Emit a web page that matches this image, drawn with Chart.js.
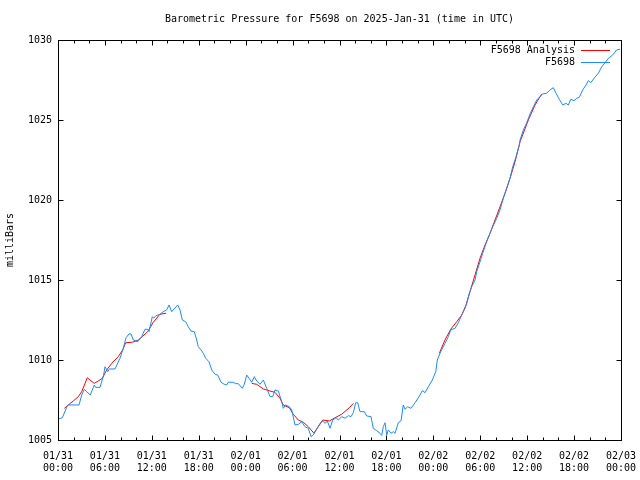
<!DOCTYPE html>
<html>
<head>
<meta charset="utf-8">
<title>Barometric Pressure F5698</title>
<script src="https://cdn.jsdelivr.net/npm/chart.js@4/dist/chart.umd.min.js"></script>
<style>
  body { margin: 0; background: #fff; }
  canvas { display: block; }
</style>
</head>
<body>
<canvas id="chartPressure" width="640" height="480"></canvas>
<script>
// Hours since 01/31 00:00 UTC and pressure (mbar)
const blueHours = [0, 0.55, 1.24, 2.69, 3.03, 3.36, 3.67, 4.13, 4.64, 4.82, 5.37, 5.84, 6.01, 6.36, 6.56, 7.29, 7.93, 8.35, 8.7, 9.08, 9.34, 9.63, 10.19, 10.7, 11.13, 11.47, 11.64, 12.06, 12.24, 12.53, 13.04, 13.47, 13.9, 14.2, 14.54, 15.31, 15.6, 15.9, 16.33, 16.66, 17.01, 17.43, 17.74, 17.94, 18.29, 18.58, 18.89, 19.31, 19.66, 20.08, 20.42, 20.85, 21.27, 21.58, 21.78, 22.42, 22.73, 23.06, 23.57, 23.83, 24.13, 24.43, 24.77, 25.11, 25.32, 25.83, 26.26, 26.69, 27.11, 27.46, 27.75, 28.18, 28.61, 28.81, 29.12, 29.58, 29.89, 30.31, 30.73, 31.17, 31.59, 32.01, 32.36, 32.65, 33.0, 33.51, 33.85, 34.15, 34.44, 34.79, 35.13, 35.55, 35.85, 36.28, 36.71, 37.13, 37.47, 37.77, 38.07, 38.33, 38.62, 39.17, 39.48, 40.03, 40.32, 40.76, 41.18, 41.4, 41.6, 41.82, 42.04, 42.24, 42.59, 42.88, 43.1, 43.52, 43.87, 44.16, 44.38, 44.72, 45.15, 45.66, 46.17, 46.59, 46.94, 47.36, 47.87, 48.31, 48.51, 48.94, 49.49, 49.92, 50.22, 50.77, 51.2, 51.63, 52.05, 52.27, 52.6, 52.91, 53.33, 53.55, 53.97, 54.32, 54.74, 55.16, 55.6, 56.11, 56.53, 56.95, 57.38, 57.81, 58.15, 58.58, 59.0, 59.09, 59.51, 59.94, 60.37, 60.79, 61.22, 61.64, 61.99, 62.5, 62.92, 63.35, 63.69, 64.11, 64.55, 64.97, 65.26, 65.57, 65.99, 66.34, 66.67, 67.1, 67.53, 67.82, 68.13, 68.55, 69.1, 69.54, 69.96, 70.38, 70.94, 71.45, 71.87];
const bluePressure = [1006.31, 1006.39, 1007.19, 1007.19, 1007.81, 1008.17, 1008.02, 1007.81, 1008.44, 1008.29, 1008.29, 1009.06, 1009.58, 1009.27, 1009.44, 1009.44, 1010.11, 1010.73, 1011.39, 1011.63, 1011.63, 1011.25, 1011.14, 1011.46, 1011.92, 1011.92, 1011.77, 1012.71, 1012.61, 1012.77, 1012.86, 1013.02, 1013.13, 1013.44, 1013.02, 1013.44, 1013.13, 1012.5, 1012.39, 1012.08, 1011.81, 1011.77, 1011.25, 1010.83, 1010.63, 1010.42, 1010.11, 1009.89, 1009.38, 1009.11, 1009.06, 1008.61, 1008.48, 1008.44, 1008.61, 1008.61, 1008.52, 1008.52, 1008.23, 1008.48, 1009.06, 1008.86, 1008.61, 1008.96, 1008.75, 1008.48, 1008.75, 1008.23, 1007.71, 1007.71, 1008.13, 1008.06, 1007.39, 1006.98, 1007.19, 1007.08, 1006.88, 1005.94, 1005.98, 1006.14, 1005.83, 1005.73, 1005.21, 1005.31, 1005.63, 1006.04, 1006.19, 1006.04, 1006.19, 1005.73, 1006.25, 1006.39, 1006.25, 1006.46, 1006.36, 1006.52, 1006.46, 1006.71, 1007.33, 1007.33, 1006.77, 1006.77, 1006.5, 1006.46, 1005.73, 1005.58, 1005.42, 1005.29, 1005.83, 1006.08, 1005.31, 1005.63, 1005.42, 1005.52, 1005.42, 1006.08, 1006.21, 1007.19, 1006.92, 1007.08, 1006.98, 1007.33, 1007.71, 1008.08, 1007.96, 1008.33, 1008.75, 1009.27, 1010.0, 1010.52, 1011.04, 1011.46, 1011.88, 1011.98, 1012.33, 1012.81, 1013.23, 1013.54, 1014.17, 1014.58, 1015.0, 1015.52, 1016.14, 1016.67, 1017.29, 1017.81, 1018.33, 1018.86, 1019.38, 1020.11, 1020.73, 1021.36, 1022.08, 1022.71, 1023.44, 1023.75, 1024.38, 1024.83, 1025.38, 1025.83, 1026.25, 1026.46, 1026.63, 1026.67, 1026.88, 1027.02, 1026.67, 1026.29, 1025.94, 1026.04, 1025.94, 1026.29, 1026.21, 1026.36, 1026.42, 1026.88, 1027.19, 1027.46, 1027.33, 1027.61, 1027.92, 1028.33, 1028.58, 1028.86, 1029.06, 1029.38, 1029.42];

// Analysis: three runs, null marks a break between them
const redHours = [0.81, 1.32, 1.96, 2.6, 3.03, 3.75, 4.09, 4.64, 5.15, 5.67, 6.23, 6.87, 7.71, 8.27, 8.66, 9.5, 10.27, 10.78, 11.47, 12.19, 13.04, 13.81,
  19,
  24.77, 25.41, 26.26, 27.11, 27.75, 28.39, 28.81, 29.58, 30.09, 30.73, 31.37, 32.01, 32.74, 33.29, 33.85, 34.7, 35.43, 36.28, 37.26, 37.77,
  43,
  48.77, 49.49, 50.22, 50.99, 51.63, 52.18, 52.69, 53.33, 53.97, 54.61, 55.25, 55.89, 56.53, 57.17, 57.81, 58.45, 59.09, 60.15, 61.0, 61.86];
const redPressure = [1006.98, 1007.19, 1007.44, 1007.71, 1008.02, 1008.89, 1008.75, 1008.54, 1008.69, 1008.86, 1009.38, 1009.79, 1010.21, 1010.63, 1011.08, 1011.11, 1011.25, 1011.46, 1011.77, 1012.36, 1012.86, 1012.92,
  null,
  1008.54, 1008.48, 1008.19, 1008.06, 1007.98, 1007.61, 1007.19, 1007.02, 1006.61, 1006.25, 1006.11, 1005.83, 1005.42, 1005.83, 1006.25, 1006.19, 1006.39, 1006.61, 1007.02, 1007.29,
  null,
  1010.42, 1011.25, 1011.92, 1012.39, 1012.81, 1013.44, 1014.27, 1015.31, 1016.36, 1017.19, 1017.92, 1018.75, 1019.58, 1020.42, 1021.36, 1022.39, 1023.64, 1025.0, 1025.94, 1026.63];

const tickLabels = [
  ["01/31", "00:00"], ["01/31", "06:00"], ["01/31", "12:00"], ["01/31", "18:00"],
  ["02/01", "00:00"], ["02/01", "06:00"], ["02/01", "12:00"], ["02/01", "18:00"],
  ["02/02", "00:00"], ["02/02", "06:00"], ["02/02", "12:00"], ["02/02", "18:00"],
  ["02/03", "00:00"]
];

const chartTitle = "Barometric Pressure for F5698 on 2025-Jan-31 (time in UTC)";
const FONT = "DejaVu Sans Mono";

// frame, inward ticks, title and legend drawn gnuplot-style
const gnuplotFrame = {
    id: "gnuplotFrame",
    afterDatasetsDraw(chart) {
        const ctx = chart.ctx;
        const a = chart.chartArea;
        const xs = chart.scales.x;
        const ys = chart.scales.y;
        const L = Math.round(a.left) + 0.5, R = Math.round(a.right) + 0.5;
        const T = Math.round(a.top) + 0.5, B = Math.round(a.bottom) + 0.5;

        ctx.save();
        ctx.strokeStyle = "#000";
        ctx.lineWidth = 1;
        ctx.beginPath();
        for (let h = 0; h <= 72; h += 2) {
            let px = Math.round(xs.getPixelForValue(h)) + 0.5;
            let len = h % 6 === 0 ? 5 : 3;
            ctx.moveTo(px, B); ctx.lineTo(px, B - len);
            ctx.moveTo(px, T); ctx.lineTo(px, T + len);
        }
        for (let p = 1005; p <= 1030; p += 5) {
            let py = Math.round(ys.getPixelForValue(p)) + 0.5;
            ctx.moveTo(L, py); ctx.lineTo(L + 5, py);
            ctx.moveTo(R, py); ctx.lineTo(R - 5, py);
        }
        ctx.stroke();
        ctx.strokeRect(L, T, R - L, B - T);

        ctx.fillStyle = "#000";
        ctx.font = "10px " + FONT;
        ctx.textAlign = "center";
        ctx.textBaseline = "middle";
        ctx.fillText(chartTitle, (a.left + a.right) / 2, 19);

        // legend
        ctx.textAlign = "right";
        chart.data.datasets.forEach((ds, i) => {
            let ly = 50 + i * 12;
            ctx.fillStyle = "#000";
            ctx.fillText(ds.label, 575, ly);
            ctx.strokeStyle = ds.borderColor;
            ctx.beginPath();
            ctx.moveTo(581, ly + 0.5);
            ctx.lineTo(610, ly + 0.5);
            ctx.stroke();
        });
        ctx.restore();
    }
};

const ctxPressure = document.getElementById("chartPressure").getContext("2d");

let chartPressure = new Chart(ctxPressure, {
    type: "line",
    data: {
        datasets: [
            {
                label: "F5698 Analysis",
                data: redHours.map((h, i) => ({ x: h, y: redPressure[i] })),
                borderColor: "#ff0000",
                borderWidth: 1,
                pointRadius: 0,
                spanGaps: false,
                order: 2
            },
            {
                label: "F5698",
                data: blueHours.map((h, i) => ({ x: h, y: bluePressure[i] })),
                borderColor: "#1a8cff",
                borderWidth: 1,
                pointRadius: 0,
                order: 1
            }
        ]
    },
    options: {
        responsive: false,
        animation: false,
        layout: { padding: { top: 40, right: 19, bottom: 0, left: 0 } },
        plugins: {
            legend: { display: false },
            title: { display: false },
            tooltip: { enabled: false }
        },
        scales: {
            x: {
                type: "linear",
                min: 0,
                max: 72,
                grid: { display: false, drawTicks: false },
                border: { display: false },
                ticks: {
                    stepSize: 6,
                    autoSkip: false,
                    maxRotation: 0,
                    padding: 10,
                    color: "#000",
                    font: { family: FONT, size: 10 },
                    callback: value => tickLabels[value / 6]
                },
                afterFit: scale => {
                    scale.height = 40;
                    scale.paddingLeft = 0;
                    scale.paddingRight = 0;
                }
            },
            y: {
                min: 1005,
                max: 1030,
                grid: { display: false, drawTicks: false },
                border: { display: false },
                ticks: {
                    stepSize: 5,
                    padding: 6,
                    color: "#000",
                    font: { family: FONT, size: 10 },
                    callback: value => String(value)
                },
                title: {
                    display: true,
                    text: "milliBars",
                    color: "#000",
                    font: { family: FONT, size: 10 }
                },
                afterFit: scale => { scale.width = 58; }
            }
        }
    },
    plugins: [gnuplotFrame]
});
</script>
</body>
</html>
